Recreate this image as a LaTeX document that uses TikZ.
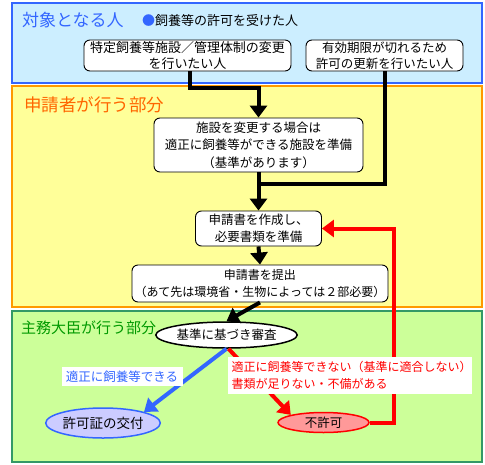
\documentclass[tikz,border=0pt]{standalone}
\usepackage{fontspec}
\newfontfamily\jp{Noto Sans CJK JP}
\usetikzlibrary{arrows.meta,shapes.geometric,calc}
\definecolor{panelblue}{HTML}{CCEEFF}
\definecolor{edgeblue}{HTML}{3366FF}
\definecolor{panelyellow}{HTML}{FFFF99}
\definecolor{edgeorange}{HTML}{FF9900}
\definecolor{panelgreen}{HTML}{CCFF99}
\definecolor{edgegreen}{HTML}{339966}
\definecolor{titleorange}{HTML}{FF6600}
\definecolor{titlegreen}{HTML}{009900}
\definecolor{lav}{HTML}{CCCCFF}
\definecolor{pink}{HTML}{FF9999}
\tikzset{
  panel/.style={line width=1.5pt},
  box/.style={draw=black, fill=white, rounded corners=6pt, line width=0.9pt, align=center,
              inner sep=0pt, font=\jp\fontsize{12.5}{16.5}\selectfont},
  oval/.style={ellipse, inner sep=0pt, line width=1.5pt, font=\jp\fontsize{12.5}{15}\selectfont},
  arr/.style={line width=4pt, line join=miter, -{Triangle[length=12pt,width=17pt]}},
  plain/.style={line width=4pt, line join=miter},
  barr/.style={draw=edgeblue, line width=4pt, -{Triangle[length=12pt,width=17pt]}},
  rarr/.style={draw=red, line width=4pt, line join=miter, -{Triangle[length=12pt,width=17pt]}},
  ttl/.style={anchor=west, inner sep=0pt, font=\jp\fontsize{17}{20}\selectfont},
}
\begin{document}
\begin{tikzpicture}[x=1pt,y=-1pt]
\useasboundingbox (0,0) rectangle (485,464);
% panels
\fill[panelblue] (12,3) rectangle (482,83);
\draw[panel, edgeblue] (12,3) rectangle (482,83);
\fill[panelyellow] (12,86) rectangle (482,307);
\draw[panel, edgeorange] (12,86) rectangle (482,307);
\fill[panelgreen] (12,311) rectangle (482,462);
\draw[panel, edgegreen] (12,311) rectangle (482,462);
% titles
\node[ttl, text=edgeblue] (t1) at (22,20) {対象となる人};
\node[ttl, font=\jp\fontsize{13}{15}\selectfont] (t1s) at (142,21) {\textcolor{edgeblue}{●}飼養等の許可を受けた人};
\node[ttl, text=titleorange, font=\jp\fontsize{17.5}{20}\selectfont] (t2) at (24,105) {申請者が行う部分};
\node[ttl, text=titlegreen, font=\jp\fontsize{15}{18}\selectfont] (t3) at (21,328) {主務大臣が行う部分};
% boxes
\node[box, minimum width=207pt, minimum height=31pt, font=\jp\fontsize{13}{16.5}\selectfont] (A) at (187.5,55.5) {特定飼養等施設／管理体制の変更\\を行いたい人};
\node[box, minimum width=157pt, minimum height=31pt] (B) at (384.5,55.5) {有効期限が切れるため\\許可の更新を行いたい人};
\node[box, minimum width=209pt, minimum height=54pt, font=\jp\fontsize{12.5}{17.5}\selectfont] (C) at (258.5,145) {施設を変更する場合は\\適正に飼養等ができる施設を準備\\（基準があります）};
\node[box, minimum width=126pt, minimum height=35pt] (D) at (258.5,228.5) {申請書を作成し、\\必要書類を準備};
\node[box, minimum width=256pt, minimum height=37pt, font=\jp\fontsize{12}{17}\selectfont] (E) at (260,283.5) {申請書を提出\\（あて先は環境省・生物によっては２部必要）};
\node[oval, draw=black, fill=white, minimum width=119pt, minimum height=26pt] (F) at (226.5,335) {基準に基づき審査};
\node[oval, draw=edgeblue, fill=lav, minimum width=102pt, minimum height=30pt, font=\jp\fontsize{13.5}{15}\selectfont] (G) at (103,423) {許可証の交付};
\node[oval, draw=red, fill=pink, minimum width=91pt, minimum height=20pt] (H) at (323.5,422.5) {不許可};
% connectors
\coordinate (j) at (258.5,184);
\coordinate (r) at (394,228.5);
\draw[arr] ([xshift=2.5pt]A.south) -- ++(0,17) -| (C.north);
\draw[plain] (B.south) |- (j);
\draw[arr] (C.south) -- (D.north);
\draw[arr] (D.south) -- (E.north);
\draw[arr] (E.south) -- (F.north);
\draw[barr] (F.south) -- (G.north east);
\draw[rarr] ([xshift=2pt]F.south) -- (H.north west);
\draw[rarr] (H.east) -| (r) -- (D.east);
% labels
\node[fill=white, text=edgeblue, inner sep=0pt, minimum width=121pt, minimum height=19pt, font=\jp\fontsize{12.5}{15}\selectfont] (lg) at (122,376.5) {適正に飼養等できる};
\node[fill=white, text=red, inner sep=0pt, minimum width=244pt, minimum height=37pt, align=left, text width=237pt, font=\jp\fontsize{12}{17}\selectfont] (lr) at (350,375.5) {適正に飼養等できない（基準に適合しない）\\書類が足りない・不備がある};
\end{tikzpicture}
\end{document}
